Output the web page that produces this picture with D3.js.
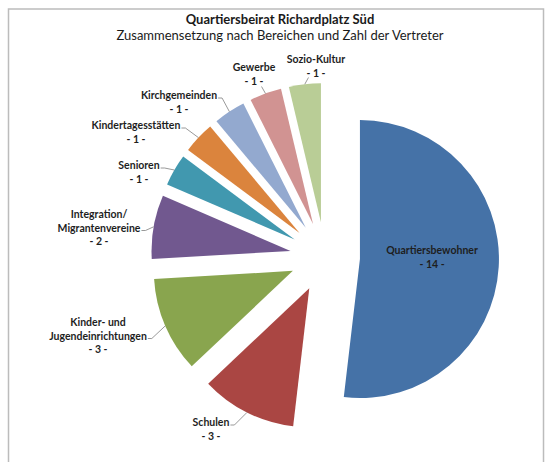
<!DOCTYPE html>
<html>
<head>
<meta charset="utf-8">
<script src="https://cdn.jsdelivr.net/npm/d3@7"></script>
<style>
    body { margin: 0; background: #fff; }
    svg { display: block; }
</style>
</head>
<body>
<svg id="chart" width="545" height="462"></svg>
<script>
// data
const categories = ['Quartiersbewohner', 'Schulen', 'Kinder- und\nJugendeinrichtungen', 'Integration/\nMigrantenvereine',
    'Senioren', 'Kindertagesstätten', 'Kirchgemeinden', 'Gewerbe', 'Sozio-Kultur'];
const values = [14, 3, 3, 2, 1, 1, 1, 1, 1];
const colors = ['#4572A7', '#AA4643', '#89A54E', '#71588F', '#4198AF', '#DB843D', '#93A9CF', '#D19392', '#B9CD96'];

const title = 'Quartiersbeirat Richardplatz Süd';
const subtitle = 'Zusammensetzung nach Bereichen und Zahl der Vertreter';

// label placement: x = text centre, y = first baseline, lead = line the leader starts at, side of the leader
const labelLayout = [
    { x: 432, y: 254, lead: null },
    { x: 211, y: 426, lead: 0, side: 'right' },
    { x: 98, y: 326, lead: 1, side: 'right' },
    { x: 99, y: 218, lead: 1, side: 'right' },
    { x: 139, y: 169, lead: 0, side: 'right' },
    { x: 136, y: 129, lead: 0, side: 'right' },
    { x: 179, y: 99, lead: 0, side: 'right' },
    { x: 254, y: 71, lead: 1, side: 'below' },
    { x: 316, y: 63, lead: 1, side: 'left' },
];

const fontFamily = 'Lato, "Open Sans", sans-serif';
const cx = 325, cy = 257;
const radius = 139;
const explode = 35;
const lineHeight = 13.5;

const svg = d3.select('#chart');

// frame
svg.append('rect')
    .attr('x', 8.5).attr('y', 9)
    .attr('width', 535).attr('height', 470)
    .attr('fill', 'none')
    .attr('stroke', '#bcbcbc')
    .attr('stroke-width', 1.5);

svg.append('text')
    .attr('x', 280).attr('y', 24)
    .attr('text-anchor', 'middle')
    .style('font-family', fontFamily)
    .style('font-size', '13px')
    .style('font-weight', 'bold')
    .attr('fill', '#1a1a1a')
    .text(title);

svg.append('text')
    .attr('x', 280).attr('y', 40)
    .attr('text-anchor', 'middle')
    .style('font-family', fontFamily)
    .style('font-size', '13px')
    .attr('fill', '#1a1a1a')
    .text(subtitle);

const rows = categories.map((c, i) => ({ name: c, value: values[i], color: colors[i], layout: labelLayout[i] }));

const pie = d3.pie().sort(null).value(d => d.value).startAngle(0).endAngle(2 * Math.PI);
const arcs = pie(rows);

const arc = d3.arc().innerRadius(0).outerRadius(radius);

function offsetOf(d) {
    const mid = (d.startAngle + d.endAngle) / 2;
    return [explode * Math.sin(mid), -explode * Math.cos(mid)];
}

const pieG = svg.append('g').attr('transform', `translate(${cx},${cy})`);

pieG.selectAll('path.slice')
    .data(arcs)
    .join('path')
    .attr('class', 'slice')
    .attr('transform', d => `translate(${offsetOf(d)})`)
    .attr('d', arc)
    .attr('fill', d => d.data.color);

// labels
const labelG = svg.append('g').attr('class', 'labels');

arcs.forEach(d => {
    const lay = d.data.layout;
    const lines = d.data.name.split('\n').concat([`- ${d.data.value} -`]);
    const t = labelG.append('text')
        .attr('text-anchor', 'middle')
        .style('font-family', fontFamily)
        .style('font-size', '10.5px')
        .style('font-weight', 'bold')
        .attr('fill', '#1e1e1e');
    const spans = lines.map((l, i) => t.append('tspan')
        .attr('x', lay.x)
        .attr('y', lay.y + i * lineHeight)
        .text(l));

    if (lay.lead == null) return;

    // leader: from the label to the outer arc at mid angle of the exploded slice
    const mid = (d.startAngle + d.endAngle) / 2;
    const [ox, oy] = offsetOf(d);
    const px = cx + ox + radius * Math.sin(mid);
    const py = cy + oy - radius * Math.cos(mid);

    const node = spans[lay.lead].node();
    const w = node.getComputedTextLength();
    const base = lay.y + lay.lead * lineHeight;
    let pts;
    if (lay.side === 'right') {
        const sx = lay.x + w / 2 + 1;
        pts = [[sx, base - 1], [sx + 4, base - 1], [px, py]];
    } else if (lay.side === 'left') {
        const sx = lay.x - w / 2 + 2;
        pts = [[sx, base + 1], [px, py]];
    } else {
        const sx = lay.x + w / 2 - 2;
        pts = [[sx, base + 2], [px, py]];
    }
    labelG.append('path')
        .attr('d', d3.line()(pts))
        .attr('fill', 'none')
        .attr('stroke', '#7f7f7f')
        .attr('stroke-width', 0.8);
});
</script>
</body>
</html>
